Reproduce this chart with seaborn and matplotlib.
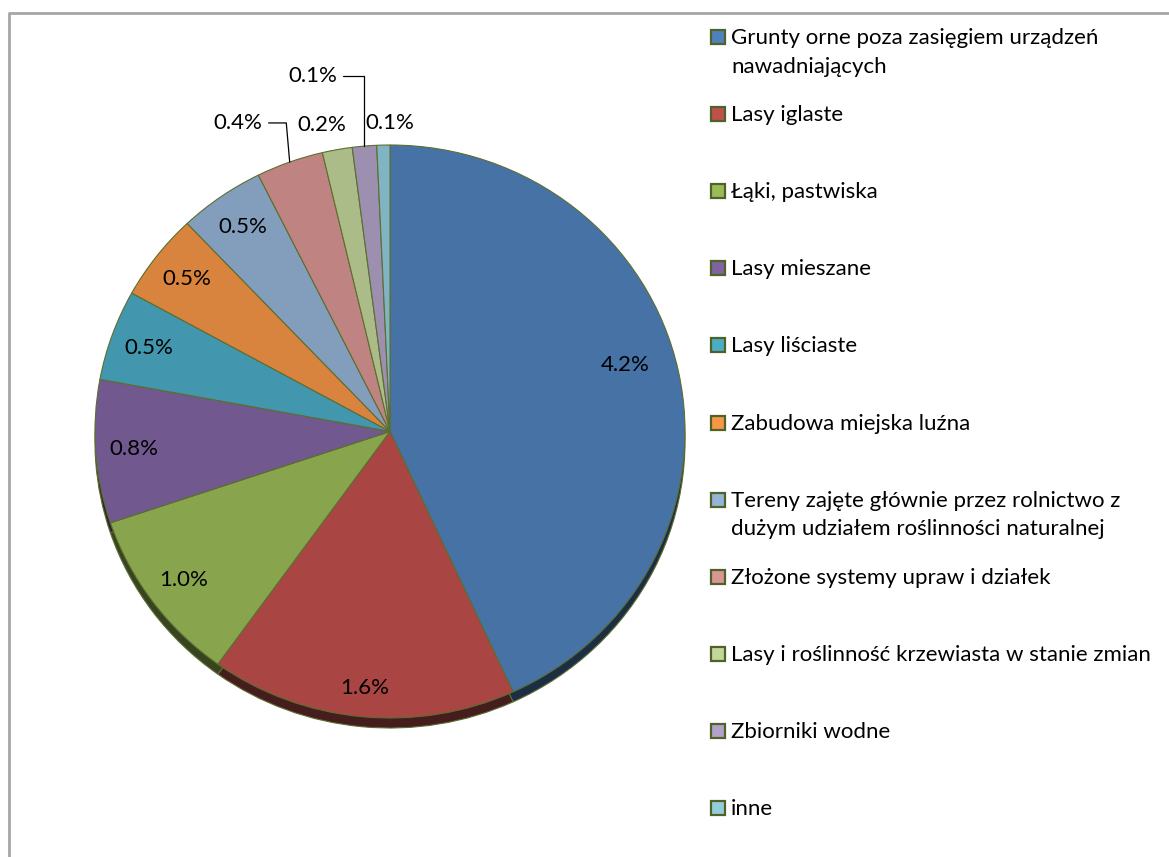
import numpy as np
import matplotlib
matplotlib.use("Agg")
import matplotlib.pyplot as plt
import matplotlib.colors as mcolors
from matplotlib.patches import Rectangle
import seaborn as sns

# Set style
sns.set_theme(style="white")
plt.rcParams['font.family'] = ['Lato', 'DejaVu Sans']
plt.rcParams['font.size'] = 16
plt.rcParams['text.color'] = 'black'

# Data (land cover shares, %)
categories = [
    "Grunty orne poza zasięgiem urządzeń\nnawadniających",
    "Lasy iglaste",
    "Łąki, pastwiska",
    "Lasy mieszane",
    "Lasy liściaste",
    "Zabudowa miejska luźna",
    "Tereny zajęte głównie przez rolnictwo z\ndużym udziałem roślinności naturalnej",
    "Złożone systemy upraw i działek",
    "Lasy i roślinność krzewiasta w stanie zmian",
    "Zbiorniki wodne",
    "inne",
]
values = [4.22, 1.64, 0.97, 0.79, 0.50, 0.48, 0.46, 0.36, 0.16, 0.13, 0.07]
colors = ["#4F81BD", "#C0504D", "#9BBB59", "#8064A2", "#4BACC6", "#F79646",
          "#95B3D7", "#D99694", "#C3D69B", "#B2A2C7", "#93CDDD"]

W, H = 1169, 857
fig = plt.figure(figsize=(W / 100, H / 100), dpi=100)

# background axes in pixel coords for frame + legend
bg = fig.add_axes([0, 0, 1, 1])
bg.set_xlim(0, W)
bg.set_ylim(H, 0)
bg.axis('off')
bg.plot([8.5, 8.5, W], [H, 13, 13], color='#a6a6a6', lw=2, solid_capstyle='butt')

# pie axes: centre (390, 431.5), radii 295 x 286.5 px
cx, cy, rx, ry = 390, 431.5, 295, 286.5
lim = 1.3
ax = fig.add_axes([(cx - lim * rx) / W, (H - cy - lim * ry) / H,
                   2 * lim * rx / W, 2 * lim * ry / H])

shade = [tuple(np.array(mcolors.to_rgb(c)) * 0.88) for c in colors]
dark = [tuple(np.array(mcolors.to_rgb(c)) * 0.36) for c in colors]
edge = '#5c6e30'

# 3D-ish side (shadow) then top face
ax.pie(values, colors=dark, startangle=90, counterclock=False,
       center=(0, -10 / ry), wedgeprops=dict(edgecolor=edge, linewidth=0.8))
wedges, _ = ax.pie(values, colors=shade, startangle=90, counterclock=False,
                   wedgeprops=dict(edgecolor=edge, linewidth=0.8))
ax.set_aspect('auto')
ax.set_xlim(-lim, lim)
ax.set_ylim(-lim, lim)

# labels outside for small slices
outside = {7: (-0.515, 1.077), 8: (-0.231, 1.070), 9: (-0.261, 1.241), 10: (0.0, 1.077)}
leaders = {7: 'angle,angleA=0,angleB=95', 9: 'angle,angleA=0,angleB=90'}
label_r = {0: 0.83, 1: 0.9}

for i, w in enumerate(wedges):
    txt = f"{values[i]:.1f}%"
    mid = np.deg2rad((w.theta1 + w.theta2) / 2)
    if i == 0:
        mid += np.deg2rad(4)
    if i in outside:
        if i in leaders:
            ax.annotate(txt, xy=(np.cos(mid), np.sin(mid)), xytext=outside[i],
                        ha='center', va='center', fontsize=16, color='black',
                        arrowprops=dict(arrowstyle='-', color='black', lw=0.9,
                                        connectionstyle=leaders[i], shrinkB=0))
        else:
            ax.text(*outside[i], txt, ha='center', va='center', fontsize=16)
    else:
        r = label_r.get(i, 0.87)
        ax.text(r * np.cos(mid), r * np.sin(mid), txt, ha='center', va='center', fontsize=16)

# legend
for i, (lab, col) in enumerate(zip(categories, colors)):
    base = 44 + 77.1 * i
    bg.add_patch(Rectangle((711, base - 14), 14, 14, facecolor=col,
                           edgecolor='#4f6228', lw=1.6))
    for k, line in enumerate(lab.split("\n")):
        bg.text(731, base + 28.7 * k, line, ha='left', va='baseline', fontsize=16)

plt.savefig("out.png", dpi=100)
